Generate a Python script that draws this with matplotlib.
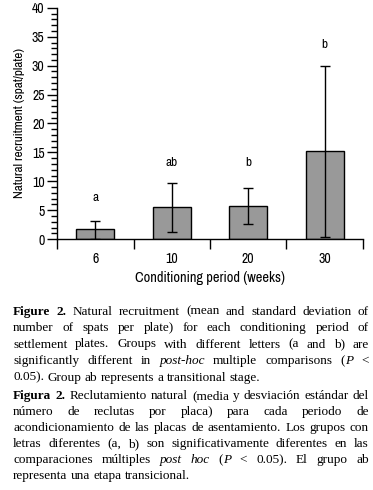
import matplotlib
matplotlib.use("Agg")
import matplotlib.pyplot as plt
from matplotlib import font_manager
import numpy as np

# chart data
periods = ["6", "10", "20", "30"]
means = [1.7, 5.5, 5.8, 15.2]
err_low = [1.6, 4.3, 3.1, 14.8]
err_high = [1.5, 4.2, 3.1, 14.7]
letters = ["a", "ab", "b", "b"]
letter_y = [7.2, 13.2, 13.2, 33.6]

caption_en = [
    "Figure 2. Natural recruitment (mean and standard deviation of",
    "number of spats per plate) for each conditioning period of",
    "settlement plates. Groups with different letters (a and b) are",
    "significantly different in post-hoc multiple comparisons (P <",
    "0.05). Group ab represents a transitional stage.",
]
caption_es = [
    "Figura 2. Reclutamiento natural (media y desviación estándar del",
    "número de reclutas por placa) para cada periodo de",
    "acondicionamiento de las placas de asentamiento. Los grupos con",
    "letras diferentes (a, b) son significativamente diferentes en las",
    "comparaciones múltiples post hoc (P < 0.05). El grupo ab",
    "representa una etapa transicional.",
]
bold_words = {"Figure", "Figura", "2."}
italic_words = {"post-hoc", "post", "hoc", "P"}

# look for a narrow sans face, else fall back to Liberation Sans
narrow = [f.name for f in font_manager.fontManager.ttflist
          if ("Narrow" in f.name or "Condensed" in f.name) and "Serif" not in f.name and "Mono" not in f.name]
SANS = ([narrow[0]] if narrow else []) + ["Liberation Sans", "DejaVu Sans"]
sans_fs = 10 if narrow else 8.5
SERIF = ["Liberation Serif", "DejaVu Serif"]

fig = plt.figure(figsize=(3.73, 4.90), dpi=100)
ax = fig.add_axes([0.153, 0.512, 0.82, 0.472])

x = np.arange(len(periods))
ax.bar(x, means, width=0.5, color="#999999", edgecolor="black", linewidth=1.0, zorder=2)
ax.errorbar(x, means, yerr=[err_low, err_high], fmt="none", ecolor="black",
            elinewidth=1.0, capsize=3.5, capthick=1.0, zorder=3)
for xi, lab, ly in zip(x, letters, letter_y):
    ax.text(xi, ly, lab, ha="center", va="center", fontsize=sans_fs - 0.5, family=SANS)

ax.set_xlim(-0.5, len(periods) - 0.5)
ax.set_ylim(0, 40)
ax.set_xticks(np.arange(-0.5, len(periods)))
ax.set_xticklabels([])
ax.set_xticks(x, minor=True)
ax.set_xticklabels(periods, minor=True, fontsize=sans_fs, family=SANS)
ax.tick_params(axis="x", which="major", direction="out", length=7, width=1)
ax.tick_params(axis="x", which="minor", length=0, pad=9)
ax.set_yticks(np.arange(0, 41, 5))
ax.set_yticks(np.arange(0, 41, 1), minor=True)
ax.tick_params(axis="y", which="major", direction="out", length=7, width=1, pad=2)
ax.tick_params(axis="y", which="minor", direction="out", length=4, width=1)
for lab in ax.get_yticklabels():
    lab.set_family(SANS)
    lab.set_fontsize(sans_fs)
for s in ["top", "right"]:
    ax.spines[s].set_visible(False)
ax.spines["left"].set_linewidth(1)
ax.spines["bottom"].set_linewidth(1)
ax.set_ylabel("Natural recruitment (spat/plate)", fontsize=sans_fs * 0.95, family=SANS, labelpad=5)
ax.set_xlabel("Conditioning period (weeks)", fontsize=sans_fs * 1.04, family=SANS, labelpad=4)

# justified caption
renderer = fig.canvas.get_renderer()
W, H = 373.0, 490.0
left_px, right_px = 13.0, 369.0
fs = 9.5


def text_width(s, **kw):
    t = fig.text(0, 0, s, fontsize=fs, family=SERIF, **kw)
    w = t.get_window_extent(renderer).width
    t.remove()
    return w


space = text_width("a a") - text_width("aa")


def word_style(w):
    core = w.strip("().,")
    weight = "bold" if w in bold_words else "normal"
    style = "italic" if core in italic_words else "normal"
    return weight, style


def draw_line(line, y_px, justify):
    items = []
    for w in line.split(" "):
        weight, style = word_style(w)
        if w == "(P":
            parts = [("(", "normal"), ("P", "italic")]
        else:
            parts = [(w, style)]
        segs = []
        for txt, st in parts:
            t = fig.text(0, 1 - y_px / H, txt, fontsize=fs, family=SERIF,
                         weight=weight, style=st, va="baseline", ha="left")
            segs.append((t, t.get_window_extent(renderer).width))
        items.append(segs)
    total = sum(wp for segs in items for _, wp in segs)
    if justify and len(items) > 1:
        gap = (right_px - left_px - total) / (len(items) - 1)
    else:
        gap = space
    xp = left_px
    for segs in items:
        for t, wp in segs:
            t.set_x(xp / W)
            xp += wp
        xp += gap


base_en = 314.5
for i, line in enumerate(caption_en):
    draw_line(line, base_en + i * 16.5, i < len(caption_en) - 1)
base_es = 399.0
for i, line in enumerate(caption_es):
    draw_line(line, base_es + i * 16.0, i < len(caption_es) - 1)

fig.savefig("out.png", dpi=100)
